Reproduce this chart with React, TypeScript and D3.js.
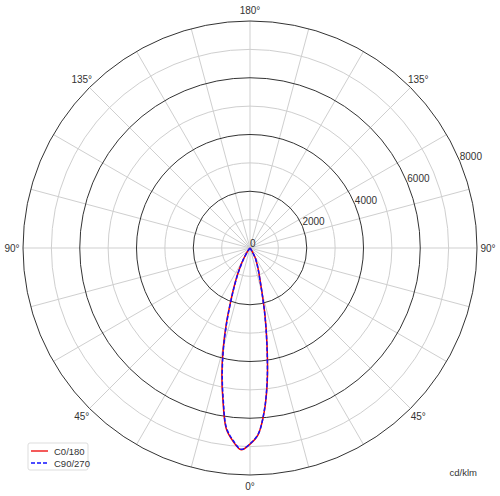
import React, { useEffect, useRef } from 'react'
import * as d3 from 'd3'

// gamma angles (deg) measured from nadir, shared by both half planes
const gammas = [0, 2.5, 5, 7.5, 10, 12.5, 15, 17.5, 20, 22.5, 25, 27.5, 30, 35, 40, 45]

// C0/180 plane: left half (C180) and right half (C0), cd/klm
const c180Left = [6910, 7120, 6840, 6420, 5480, 4580, 3640, 2750, 1980, 1450, 1050, 730, 490, 180, 40, 0]
const c0Right = [6910, 6580, 5780, 4680, 3450, 2450, 1650, 1170, 900, 700, 540, 420, 250, 60, 10, 0]

// C90/270 plane
const c270Left = [6900, 7100, 6810, 6380, 5430, 4520, 3590, 2700, 1940, 1420, 1030, 710, 470, 170, 35, 0]
const c90Right = [6900, 6570, 5760, 4650, 3420, 2420, 1630, 1150, 880, 690, 530, 410, 240, 55, 8, 0]

const ringValues = [1000, 2000, 3000, 4000, 5000, 6000, 7000, 8000]
const majorRings = [2000, 4000, 6000, 8000]
const radialLabels = ['0', '2000', '4000', '6000', '8000']
const angleLabels = [0, 45, 90, 135, 180]

const series = [
  { name: 'C0/180', left: c180Left, right: c0Right, color: '#ee0000', dash: null },
  { name: 'C90/270', left: c270Left, right: c90Right, color: '#1010ff', dash: '4,2' },
]

const App = () => {
  const ref = useRef<SVGSVGElement>(null)

  useEffect(() => {
    const svg = d3.select(ref.current)
    svg.selectAll('*').remove()

    const width = 500
    const height = 496
    const cx = 250
    const cy = 248
    const R = 227
    const font = '"Liberation Sans", Arial, sans-serif'

    const r = d3.scaleLinear().domain([0, 8000]).range([0, R])
    const toRad = (deg: number) => (deg * Math.PI) / 180

    svg.attr('width', width).attr('height', height)
    const g = svg.append('g').attr('transform', `translate(${cx},${cy})`)

    // spokes every 15 degrees
    g.selectAll('line.spoke')
      .data(d3.range(0, 360, 15))
      .enter()
      .append('line')
      .attr('x1', 0)
      .attr('y1', 0)
      .attr('x2', (d) => R * Math.sin(toRad(d)))
      .attr('y2', (d) => -R * Math.cos(toRad(d)))
      .attr('stroke', '#cfcfcf')
      .attr('stroke-width', 1)

    // rings
    g.selectAll('circle.ring')
      .data(ringValues)
      .enter()
      .append('circle')
      .attr('r', (d) => r(d))
      .attr('fill', 'none')
      .attr('stroke', (d) => (majorRings.includes(d) ? '#333' : '#cfcfcf'))
      .attr('stroke-width', 1)

    // angle labels, 0 at the bottom, mirrored on both sides
    const labelPos: { text: string; a: number }[] = []
    angleLabels.forEach((a) => {
      labelPos.push({ text: `${a}°`, a: 180 - a })
      if (a !== 0 && a !== 180) labelPos.push({ text: `${a}°`, a: 180 + a })
    })
    g.selectAll('text.angle')
      .data(labelPos)
      .enter()
      .append('text')
      .attr('x', (d) => 238 * Math.sin(toRad(d.a)))
      .attr('y', (d) => -238 * Math.cos(toRad(d.a)))
      .attr('text-anchor', 'middle')
      .attr('dominant-baseline', 'central')
      .attr('font-family', font)
      .attr('font-size', 10)
      .attr('fill', '#333')
      .text((d) => d.text)

    // radial tick labels along 22.5 degrees above horizontal
    const la = toRad(22.5)
    g.selectAll('text.radial')
      .data(radialLabels)
      .enter()
      .append('text')
      .attr('x', (d) => r(+d) * Math.cos(la))
      .attr('y', (d) => -r(+d) * Math.sin(la) - 1)
      .attr('font-family', font)
      .attr('font-size', 10)
      .attr('fill', '#333')
      .text((d) => d)

    // curves
    const line = d3
      .lineRadial<{ a: number; v: number }>()
      .angle((d) => d.a)
      .radius((d) => r(d.v))
      .curve(d3.curveCatmullRom.alpha(0.5))

    series.forEach((s) => {
      const pts: { a: number; v: number }[] = []
      for (let i = gammas.length - 1; i >= 0; i--) pts.push({ a: toRad(180 + gammas[i]), v: s.left[i] })
      for (let i = 1; i < gammas.length; i++) pts.push({ a: toRad(180 - gammas[i]), v: s.right[i] })
      g.append('path')
        .attr('d', line(pts))
        .attr('fill', 'none')
        .attr('stroke', s.color)
        .attr('stroke-width', 1.5)
        .attr('stroke-dasharray', s.dash)
    })

    // legend
    const lg = svg.append('g').attr('transform', 'translate(28,443)')
    lg.append('rect')
      .attr('width', 60)
      .attr('height', 27)
      .attr('rx', 2)
      .attr('fill', '#fff')
      .attr('stroke', '#ddd')
    series.forEach((s, i) => {
      const y = 8 + i * 12
      lg.append('line')
        .attr('x1', 3)
        .attr('x2', 20)
        .attr('y1', y)
        .attr('y2', y)
        .attr('stroke', s.color)
        .attr('stroke-width', 1.3)
        .attr('stroke-dasharray', s.dash)
      lg.append('text')
        .attr('x', 26)
        .attr('y', y)
        .attr('dominant-baseline', 'central')
        .attr('font-family', font)
        .attr('font-size', 9.5)
        .attr('fill', '#333')
        .text(s.name)
    })

    svg.append('text')
      .attr('x', 477)
      .attr('y', 472)
      .attr('text-anchor', 'end')
      .attr('dominant-baseline', 'central')
      .attr('font-family', font)
      .attr('font-size', 9.5)
      .attr('fill', '#333')
      .text('cd/klm')
  }, [])

  return <svg ref={ref} style={{ position: 'absolute', left: 0, top: 0 }}></svg>
}

export default App
